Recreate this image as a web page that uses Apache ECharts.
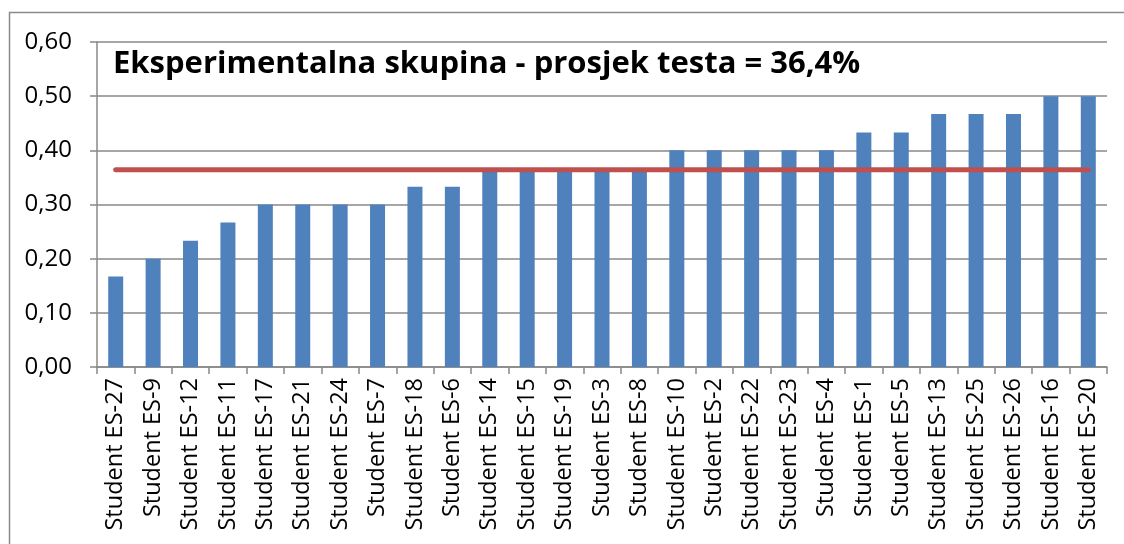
<!DOCTYPE html>
<html>
<head>
<meta charset="utf-8">
<script src="https://cdn.jsdelivr.net/npm/echarts@6/dist/echarts.min.js"></script>
<style>
  html, body { margin: 0; padding: 0; background: #fff; }
  #chart { width: 1124px; height: 544px; }
</style>
</head>
<body>
<div id="chart"></div>
<script>
// Students sorted by test score (share of correct answers)
const students = [
  'Student ES-27', 'Student ES-9', 'Student ES-12', 'Student ES-11', 'Student ES-17',
  'Student ES-21', 'Student ES-24', 'Student ES-7', 'Student ES-18', 'Student ES-6',
  'Student ES-14', 'Student ES-15', 'Student ES-19', 'Student ES-3', 'Student ES-8',
  'Student ES-10', 'Student ES-2', 'Student ES-22', 'Student ES-23', 'Student ES-4',
  'Student ES-1', 'Student ES-5', 'Student ES-13', 'Student ES-25', 'Student ES-26',
  'Student ES-16', 'Student ES-20'
];
const scores = [
  0.167, 0.200, 0.233, 0.267, 0.300,
  0.300, 0.300, 0.300, 0.333, 0.333,
  0.367, 0.367, 0.367, 0.367, 0.367,
  0.400, 0.400, 0.400, 0.400, 0.400,
  0.433, 0.433, 0.467, 0.467, 0.467,
  0.500, 0.500
];
// Group average (36,4 %)
const groupMean = 0.364;
const meanLine = students.map(() => groupMean);
const titleText = 'Eksperimentalna skupina - prosjek testa = 36,4%';

const chart = echarts.init(document.getElementById('chart'), null, { renderer: 'canvas' });
const font = '"Open Sans", "DejaVu Sans", sans-serif';

chart.setOption({
  animation: false,
  backgroundColor: '#fff',
  graphic: [{
    type: 'rect',
    shape: { x: 9.5, y: 12.5, width: 1130, height: 560 },
    style: { fill: 'none', stroke: '#8a8a8a', lineWidth: 1.5 },
    silent: true
  }],
  title: {
    text: titleText,
    left: 108,
    top: 44,
    textStyle: { fontFamily: font, fontWeight: 'bold', fontSize: 31, color: '#000' }
  },
  grid: { left: 97, right: 17, top: 42, bottom: 177 },
  xAxis: {
    type: 'category',
    data: students,
    axisLine: { show: true, lineStyle: { color: '#888', width: 1.5 } },
    axisTick: { show: true, length: 7, alignWithLabel: false, lineStyle: { color: '#888', width: 1.5 } },
    axisLabel: {
      rotate: 90, margin: 11, interval: 0,
      fontFamily: font, fontSize: 23.5, color: '#000'
    }
  },
  yAxis: {
    type: 'value',
    min: 0, max: 0.6, interval: 0.1,
    axisLine: { show: true, lineStyle: { color: '#888', width: 1.5 } },
    axisTick: { show: true, length: 7, lineStyle: { color: '#888', width: 1.5 } },
    splitLine: { show: true, lineStyle: { color: '#888', width: 1.5 } },
    axisLabel: {
      margin: 25,
      fontFamily: font, fontSize: 24, color: '#000',
      formatter: v => v.toFixed(2).replace('.', ',')
    }
  },
  series: [
    {
      type: 'bar',
      data: scores,
      barWidth: 15,
      itemStyle: { color: '#4f81bd' }
    },
    {
      type: 'line',
      data: meanLine,
      symbol: 'none',
      lineStyle: { color: '#c0504d', width: 5, cap: 'round' },
      z: 5
    }
  ]
});
</script>
</body>
</html>
